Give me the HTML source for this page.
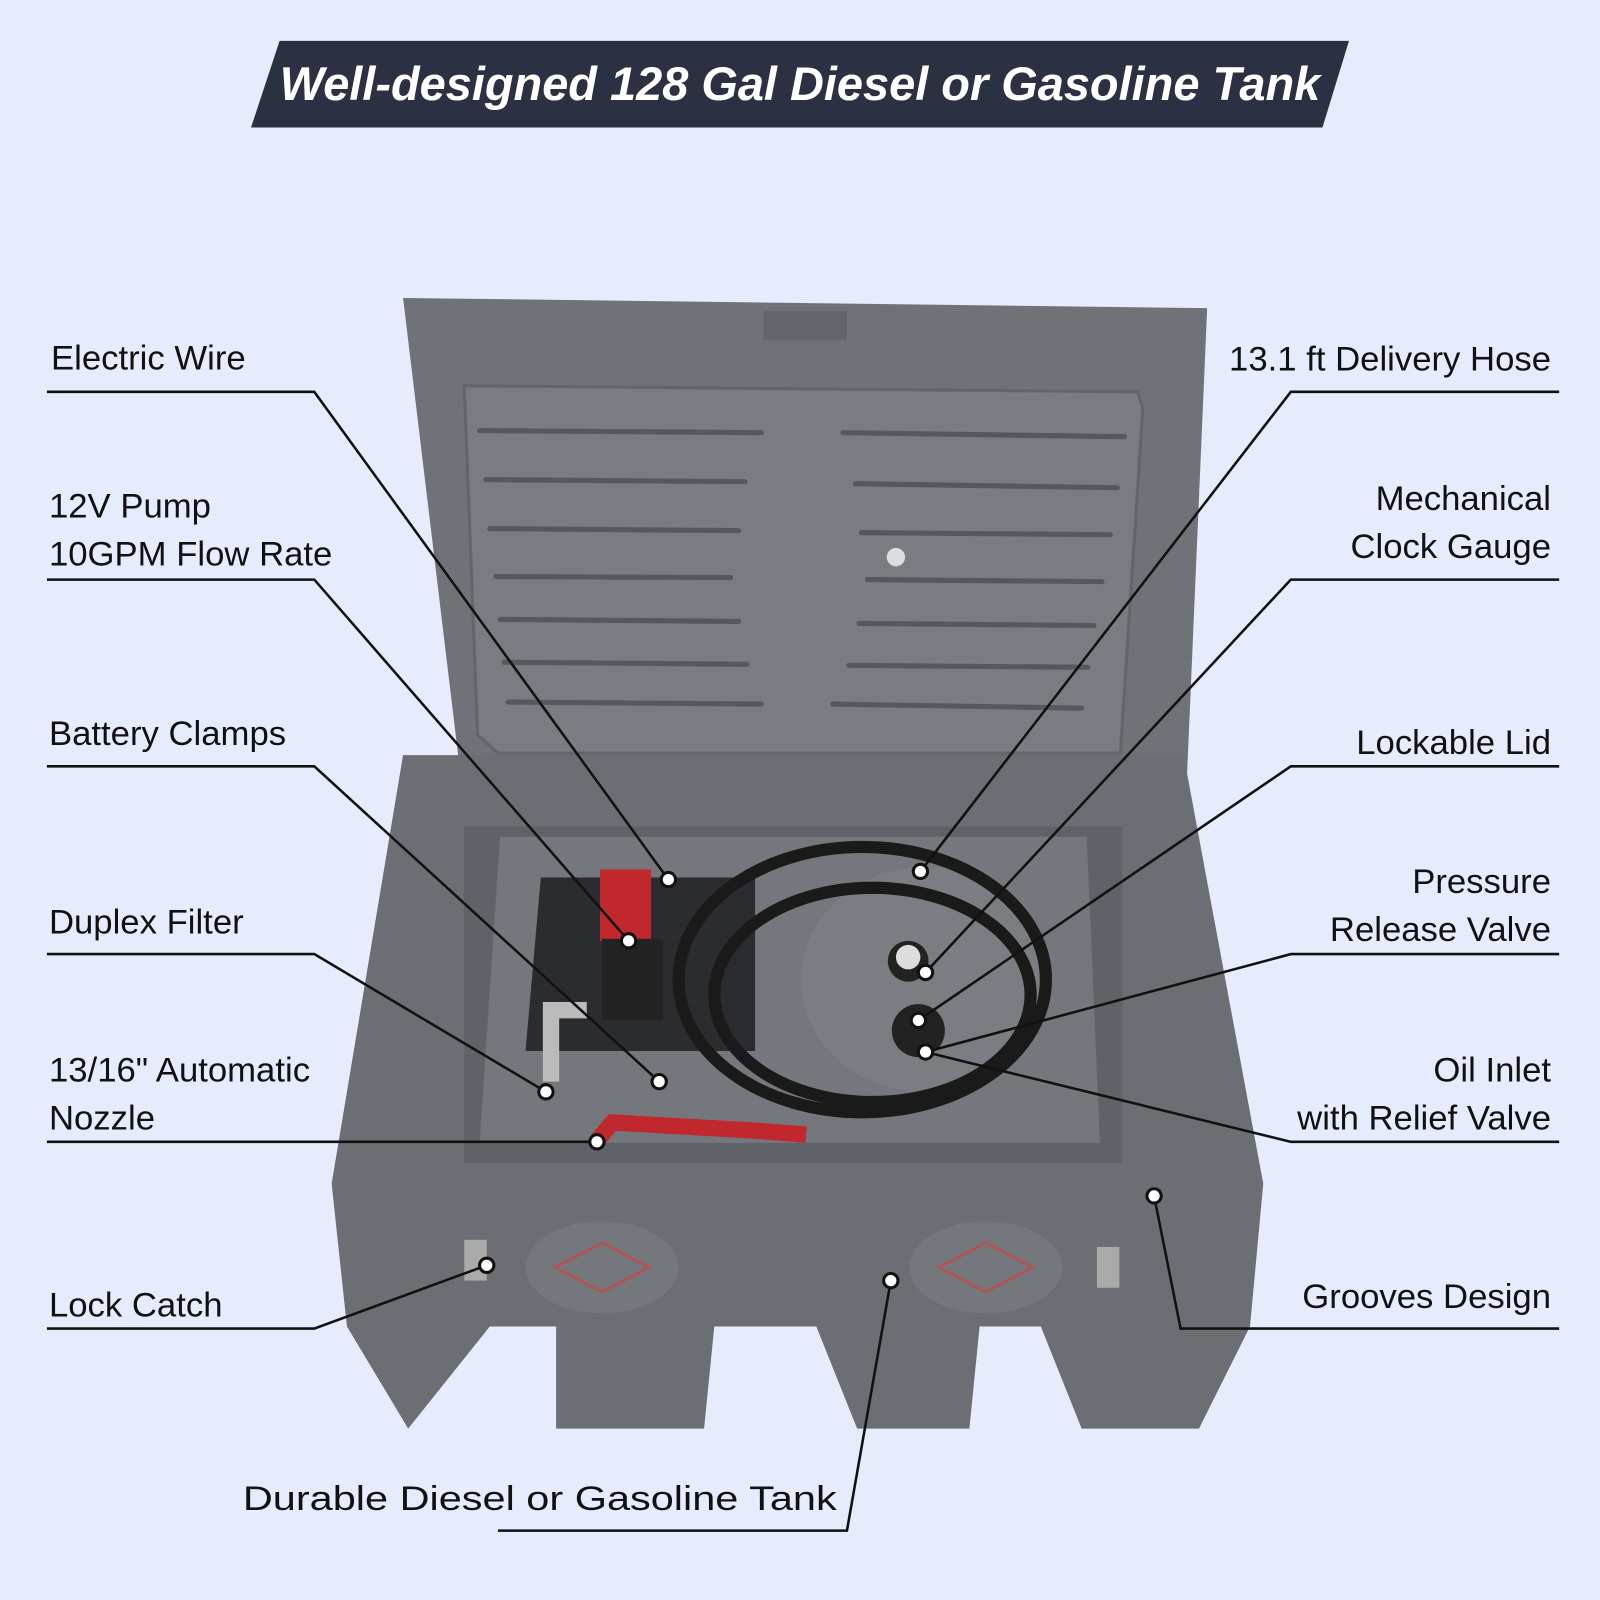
<!DOCTYPE html>
<html><head><meta charset="utf-8"><style>
html,body{margin:0;padding:0;background:#e6ecfe;}
svg{display:block}
text{font-family:"Liberation Sans",sans-serif;font-size:34px;fill:#111;}
</style></head><body>
<svg width="1600" height="1600" viewBox="0 0 1568 1568" xmlns="http://www.w3.org/2000/svg">
<rect width="1568" height="1568" fill="#e6ecfe"/>
<polygon points="274,40 1322,40 1296,125 246,125" fill="#2b3143"/>
<text x="784" y="98" text-anchor="middle" style="font-size:46px;font-weight:bold;font-style:italic;fill:#fff">Well-designed 128 Gal Diesel or Gasoline Tank</text>

<polygon points="395,292 1183,302 1162,790 455,790" fill="#6f7378"/>
<polygon points="455,378 1115,384 1120,400 1098,738 488,738 468,720" fill="#797d82" stroke="#62666a" stroke-width="3"/>
<rect x="748" y="305" width="82" height="28" fill="#62666a"/>
<g stroke="#55595d" stroke-width="5" stroke-linecap="round">
<line x1="470" y1="422" x2="746" y2="424"/><line x1="826" y1="424" x2="1102" y2="428"/>
<line x1="476" y1="470" x2="730" y2="472"/><line x1="838" y1="474" x2="1095" y2="478"/>
<line x1="480" y1="518" x2="724" y2="520"/><line x1="844" y1="522" x2="1088" y2="524"/>
<line x1="486" y1="565" x2="716" y2="566"/><line x1="850" y1="568" x2="1080" y2="570"/>
<line x1="490" y1="607" x2="724" y2="609"/><line x1="842" y1="611" x2="1072" y2="613"/>
<line x1="494" y1="649" x2="732" y2="651"/><line x1="832" y1="652" x2="1066" y2="654"/>
<line x1="498" y1="688" x2="746" y2="690"/><line x1="816" y1="690" x2="1060" y2="694"/>
</g>
<circle cx="878" cy="546" r="9" fill="#ddd"/>

<polygon points="395,740 1160,740 1238,1160 1225,1300 1175,1400 1060,1400 1020,1300 960,1300 950,1400 840,1400 800,1300 700,1300 690,1400 545,1400 545,1300 480,1300 400,1400 340,1300 325,1160" fill="#6b6f74"/>
<polygon points="455,810 1100,810 1100,1140 455,1140" fill="#5f6368"/>
<polygon points="490,820 1065,820 1078,1120 470,1120" fill="#74787d"/>
<polygon points="530,860 740,860 740,1030 515,1030" fill="#2a2c2f"/>
<ellipse cx="590" cy="1242" rx="75" ry="45" fill="#74787d"/>
<ellipse cx="966" cy="1242" rx="75" ry="45" fill="#74787d"/>
<polygon points="590,1218 636,1242 590,1266 544,1242" fill="none" stroke="#b05555" stroke-width="3"/>
<polygon points="966,1218 1012,1242 966,1266 920,1242" fill="none" stroke="#b05555" stroke-width="3"/>
<ellipse cx="905" cy="960" rx="120" ry="110" fill="#7a7e83"/>
<g fill="none" stroke="#1a1a1a" stroke-width="12">
<ellipse cx="845" cy="960" rx="180" ry="130"/>
<ellipse cx="855" cy="975" rx="155" ry="105"/>
</g>
<rect x="588" y="852" width="50" height="70" fill="#c0282e"/>
<rect x="590" y="920" width="60" height="80" fill="#222"/>
<path d="M540,1060 L540,990 L575,990" stroke="#bbb" stroke-width="16" fill="none"/>
<path d="M585,1118 L600,1100 L740,1108 L790,1112" stroke="#c0282e" stroke-width="16" fill="none"/>
<circle cx="890" cy="942" r="20" fill="#222"/><circle cx="890" cy="938" r="12" fill="#ddd"/>
<circle cx="900" cy="1010" r="26" fill="#222"/>
<rect x="455" y="1215" width="22" height="40" fill="#aaa"/><rect x="1075" y="1222" width="22" height="40" fill="#aaa"/>

<g stroke="#111" stroke-width="2.5" fill="none">
<polyline points="46,384 308,384 655,862"/>
<polyline points="46,568 308,568 616,922"/>
<polyline points="46,751 308,751 646,1060"/>
<polyline points="46,935 308,935 535,1070"/>
<polyline points="46,1119 585,1119"/>
<polyline points="46,1302 308,1302 477,1240"/>
<polyline points="488,1500 830,1500 873,1255"/>
<polyline points="1528,384 1265,384 902,854"/>
<polyline points="1528,568 1265,568 907,953"/>
<polyline points="1528,751 1265,751 900,1000"/>
<polyline points="1528,935 1265,935 907,1031"/>
<polyline points="1528,1119 1265,1119 907,1031"/>
<polyline points="1528,1302 1157,1302 1131,1172"/>
</g>
<g fill="#fff" stroke="#111" stroke-width="3">
<circle cx="655" cy="862" r="7"/><circle cx="616" cy="922" r="7"/><circle cx="646" cy="1060" r="7"/>
<circle cx="535" cy="1070" r="7"/><circle cx="585" cy="1119" r="7"/><circle cx="477" cy="1240" r="7"/>
<circle cx="873" cy="1255" r="7"/><circle cx="902" cy="854" r="7"/><circle cx="907" cy="953" r="7"/>
<circle cx="900" cy="1000" r="7"/><circle cx="907" cy="1031" r="7"/><circle cx="1131" cy="1172" r="7"/>
</g>

<text x="50" y="362">Electric Wire</text>
<text x="48" y="507">12V Pump</text>
<text x="48" y="554">10GPM Flow Rate</text>
<text x="48" y="730">Battery Clamps</text>
<text x="48" y="915">Duplex Filter</text>
<text x="48" y="1060">13/16" Automatic</text>
<text x="48" y="1107">Nozzle</text>
<text x="48" y="1290">Lock Catch</text>
<text x="238" y="1480" textLength="582" lengthAdjust="spacingAndGlyphs">Durable Diesel or Gasoline Tank</text>
<g text-anchor="end">
<text x="1520" y="363">13.1 ft Delivery Hose</text>
<text x="1520" y="500">Mechanical</text>
<text x="1520" y="547">Clock Gauge</text>
<text x="1520" y="739">Lockable Lid</text>
<text x="1520" y="875">Pressure</text>
<text x="1520" y="922">Release Valve</text>
<text x="1520" y="1060">Oil Inlet</text>
<text x="1520" y="1107">with Relief Valve</text>
<text x="1520" y="1282">Grooves Design</text>
</g>
</svg>
</body></html>
